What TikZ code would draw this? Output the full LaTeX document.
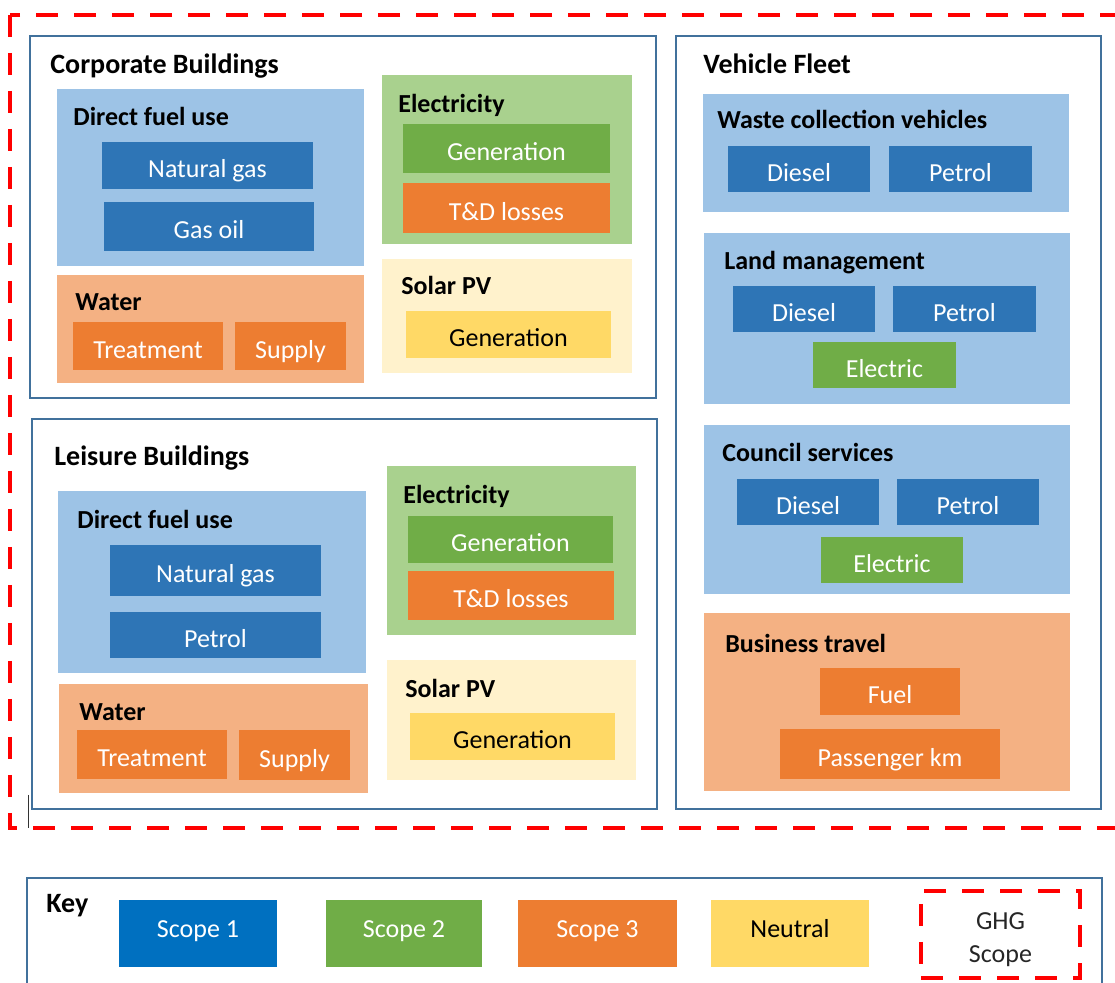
\documentclass[tikz,border=0pt]{standalone}
\usepackage{fontspec}
\setmainfont{Carlito}
\definecolor{framebl}{HTML}{41719C}
\definecolor{paleblue}{HTML}{9DC3E6}
\definecolor{midblue}{HTML}{2E75B6}
\definecolor{keyblue}{HTML}{0070C0}
\definecolor{palegreen}{HTML}{A9D18E}
\definecolor{midgreen}{HTML}{70AD47}
\definecolor{paleorange}{HTML}{F4B183}
\definecolor{midorange}{HTML}{ED7D31}
\definecolor{paleyellow}{HTML}{FFF2CC}
\definecolor{midyellow}{HTML}{FFD966}
\definecolor{ghgred}{HTML}{FF0000}
\tikzset{
  catframe/.style={draw=framebl, line width=1.3pt, inner sep=0pt},
  groupbox/.style={fill=#1, inner sep=0pt},
  itembox/.style={fill=#1, inner sep=0pt, text=white, font=\fontsize{13}{15}\selectfont,
    text height=15.3pt, text depth=2.9pt},
  keybox/.style={itembox=#1, text height=7.2pt, text depth=3.1pt},
  headtext/.style={anchor=base west, inner sep=0pt, yshift=-1pt, font=\fontsize{13}{15}\selectfont\bfseries},
  tophead/.style={headtext, font=\fontsize{14}{16}\selectfont\bfseries},
  ghgline/.style={draw=ghgred, line width=2pt, dash pattern=on 11pt off 8pt},
}
% box node from its corners (pixel units): style, name, x1, y1, x2, y2, text
\newcommand{\cell}[7]{%
  \node[#1, minimum width={(#5-#3)*0.5pt}, minimum height={(#6-#4)*0.5pt}]
    (#2) at ({(#3+#5)/2},{(#4+#6)/2}) {#7};}
\begin{document}
\begin{tikzpicture}[x=0.5pt,y=-0.5pt]
  \fill[white] (0,0) rectangle (1115,983);
  \useasboundingbox (0,0) rectangle (1115,983);
  \clip (0,0) rectangle (1115,983);
  % GHG boundary
  \draw[ghgline] (10,15) rectangle (1140,828);
  \draw[black!80, line width=0.4pt] (28,795) -- (28,828);

  % corporate buildings
  \cell{catframe}{corp}{30}{36}{656}{398}{}
  \node[tophead] (corpHead) at (50,72) {Corporate Buildings};
  \cell{groupbox=paleblue}{corpFuel}{57}{89}{364}{266}{}
  \node[headtext] (corpFuelHead) at (73,124) {Direct fuel use};
  \cell{itembox=midblue}{corpGas}{102}{142}{313}{189}{Natural gas}
  \cell{itembox=midblue}{corpOil}{104}{202}{314}{251}{Gas oil}
  \cell{groupbox=paleorange}{corpWater}{57}{275}{364}{383}{}
  \node[headtext] (corpWaterHead) at (75,309) {Water};
  \cell{itembox=midorange}{corpTreat}{73}{322}{223}{370}{Treatment}
  \cell{itembox=midorange}{corpSupply}{235}{322}{346}{370}{Supply}
  \cell{groupbox=palegreen}{corpElec}{382}{75}{632}{244}{}
  \node[headtext] (corpElecHead) at (398,111) {Electricity};
  \cell{itembox=midgreen}{corpGen}{403}{124}{610}{173}{Generation}
  \cell{itembox=midorange}{corpTD}{403}{183}{610}{233}{T\&D losses}
  \cell{groupbox=paleyellow}{corpSolar}{382}{259}{632}{373}{}
  \node[headtext] (corpSolarHead) at (401,293) {Solar PV};
  \cell{itembox=midyellow, text=black}{corpPV}{406}{311}{611}{358}{Generation}

  % leisure buildings
  \cell{catframe}{leis}{32}{419}{657}{809}{}
  \node[tophead] (leisHead) at (54,464) {Leisure Buildings};
  \cell{groupbox=paleblue}{leisFuel}{58}{491}{366}{673}{}
  \node[headtext] (leisFuelHead) at (77,527) {Direct fuel use};
  \cell{itembox=midblue}{leisGas}{110}{545}{321}{596}{Natural gas}
  \cell{itembox=midblue}{leisPetrol}{110}{612}{321}{658}{Petrol}
  \cell{groupbox=paleorange}{leisWater}{59}{684}{368}{793}{}
  \node[headtext] (leisWaterHead) at (79,719) {Water};
  \cell{itembox=midorange}{leisTreat}{77}{730}{227}{779}{Treatment}
  \cell{itembox=midorange}{leisSupply}{239}{730}{350}{780}{Supply}
  \cell{groupbox=palegreen}{leisElec}{387}{466}{636}{635}{}
  \node[headtext] (leisElecHead) at (403,502) {Electricity};
  \cell{itembox=midgreen}{leisGen}{408}{516}{613}{563}{Generation}
  \cell{itembox=midorange}{leisTD}{408}{571}{614}{620}{T\&D losses}
  \cell{groupbox=paleyellow}{leisSolar}{387}{660}{636}{780}{}
  \node[headtext] (leisSolarHead) at (405,696) {Solar PV};
  \cell{itembox=midyellow, text=black}{leisPV}{410}{713}{615}{760}{Generation}

  % vehicle fleet
  \cell{catframe}{fleet}{676}{36}{1101}{809}{}
  \node[tophead] (fleetHead) at (703,72) {Vehicle Fleet};
  \cell{groupbox=paleblue}{waste}{703}{94}{1069}{212}{}
  \node[headtext] (wasteHead) at (717,127) {Waste collection vehicles};
  \cell{itembox=midblue}{wasteDiesel}{728}{146}{870}{192}{Diesel}
  \cell{itembox=midblue}{wastePetrol}{889}{146}{1032}{192}{Petrol}
  \cell{groupbox=paleblue}{land}{704}{233}{1070}{404}{}
  \node[headtext] (landHead) at (724,268) {Land management};
  \cell{itembox=midblue}{landDiesel}{733}{286}{875}{332}{Diesel}
  \cell{itembox=midblue}{landPetrol}{893}{286}{1036}{332}{Petrol}
  \cell{itembox=midgreen}{landElec}{813}{342}{956}{388}{Electric}
  \cell{groupbox=paleblue}{council}{704}{425}{1070}{594}{}
  \node[headtext] (councilHead) at (722,460) {Council services};
  \cell{itembox=midblue}{councilDiesel}{737}{479}{879}{525}{Diesel}
  \cell{itembox=midblue}{councilPetrol}{897}{479}{1039}{525}{Petrol}
  \cell{itembox=midgreen}{councilElec}{821}{537}{963}{583}{Electric}
  \cell{groupbox=paleorange}{travel}{704}{613}{1070}{791}{}
  \node[headtext] (travelHead) at (725,651) {Business travel};
  \cell{itembox=midorange}{travelFuel}{820}{668}{960}{715}{Fuel}
  \cell{itembox=midorange}{travelKm}{780}{729}{1000}{779}{Passenger km}

  % key
  \cell{catframe}{key}{27}{878}{1102}{1010}{}
  \node[tophead] (keyHead) at (46,911) {Key};
  \cell{keybox=keyblue}{keyS1}{119}{900}{277}{967}{Scope 1}
  \cell{keybox=midgreen}{keyS2}{326}{900}{482}{967}{Scope 2}
  \cell{keybox=midorange}{keyS3}{518}{900}{677}{967}{Scope 3}
  \cell{keybox=midyellow, text=black}{keyNeutral}{711}{900}{869}{967}{Neutral}
  \cell{ghgline, inner sep=0pt}{keyGhg}{921}{891}{1080}{978}{}
  \node[anchor=base, inner sep=0pt, align=center, text=black!85,
    font=\fontsize{13}{17}\selectfont] (keyGhgText) at (1000.5,963) {GHG\\Scope};
\end{tikzpicture}
\end{document}
